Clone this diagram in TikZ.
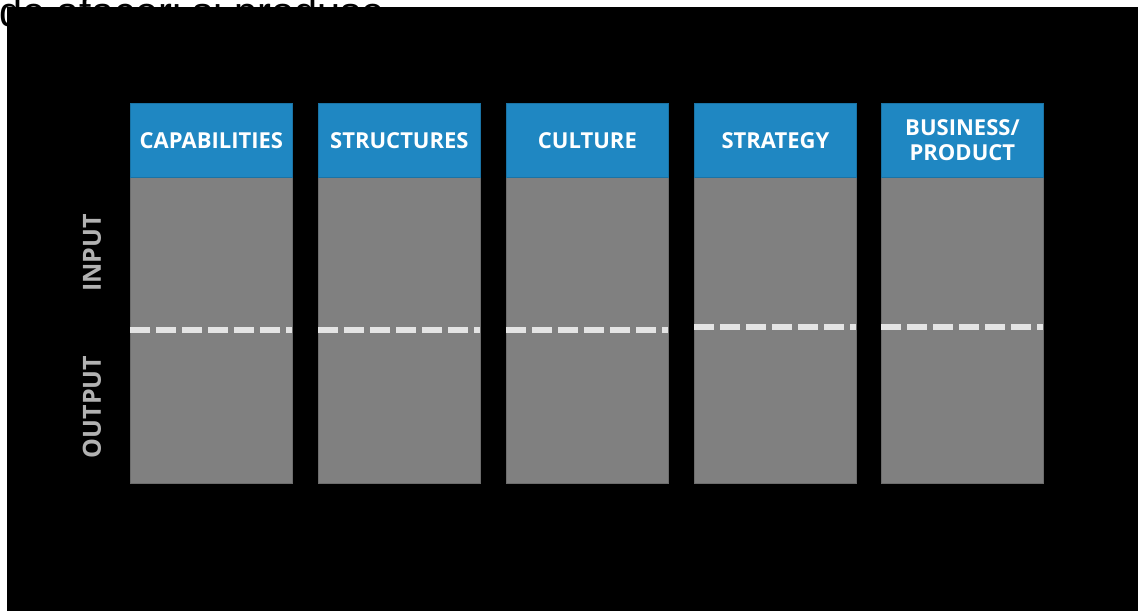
\documentclass[tikz,border=0pt]{standalone}
\usepackage{fontspec}
\setmainfont{Open Sans}
\newfontfamily\topfont{Liberation Sans}
\definecolor{hdrblue}{RGB}{31,135,194}
\definecolor{bodygray}{RGB}{128,128,128}
\definecolor{dashwhite}{RGB}{228,228,228}
\definecolor{sidegray}{RGB}{178,178,178}
\begin{document}
\begin{tikzpicture}[x=1pt,y=-1pt,
  hdr/.style={fill=hdrblue, draw=hdrblue!85!black, line width=0.8pt, minimum width=162pt, minimum height=74pt, anchor=north west, inner sep=0pt, text=white, font=\bfseries\fontsize{22}{25}\selectfont, align=center},
  body/.style={fill=bodygray, draw=bodygray!85!black, line width=0.8pt, minimum width=162pt, minimum height=306pt, anchor=north west, inner sep=0pt},
  divider/.style={draw=dashwhite, line width=6pt, dash pattern=on 20pt off 6pt},
  side/.style={text=sidegray, font=\bfseries\fontsize{25}{28}\selectfont, rotate=90, inner sep=0pt}]
\useasboundingbox (0,0) rectangle (1138,611);
\fill[white] (0,0) rectangle (1138,611);
\node[font=\topfont\fontsize{41.5}{45}\selectfont, anchor=base west, inner sep=0pt] (title) at (-1,26) {de afaceri și produse};
\fill[black] (7,7) rectangle (1138,611);
% bodies
\node[body] (b1) at (130,177) {};
\node[body] (b2) at (318,177) {};
\node[body] (b3) at (506,177) {};
\node[body] (b4) at (694,177) {};
\node[body] (b5) at (881,177) {};
% headers
\node[hdr] (h1) at (130,103) {CAPABILITIES};
\node[hdr] (h2) at (318,103) {STRUCTURES};
\node[hdr] (h3) at (506,103) {CULTURE};
\node[hdr] (h4) at (694,103) {STRATEGY};
\node[hdr] (h5) at (881,103) {BUSINESS/\\PRODUCT};
% dividers
\coordinate (d1l) at (130,330); \coordinate (d1r) at (292,330);
\coordinate (d2l) at (318,330); \coordinate (d2r) at (480,330);
\coordinate (d3l) at (506,330); \coordinate (d3r) at (668,330);
\coordinate (d4l) at (694,327); \coordinate (d4r) at (856,327);
\coordinate (d5l) at (881,327); \coordinate (d5r) at (1043,327);
\draw[divider] (d1l) -- (d1r);
\draw[divider] (d2l) -- (d2r);
\draw[divider] (d3l) -- (d3r);
\draw[divider] (d4l) -- (d4r);
\draw[divider] (d5l) -- (d5r);
% side labels
\node[side] (input) at (92,253) {INPUT};
\node[side] (output) at (92,407) {OUTPUT};
\end{tikzpicture}
\end{document}
